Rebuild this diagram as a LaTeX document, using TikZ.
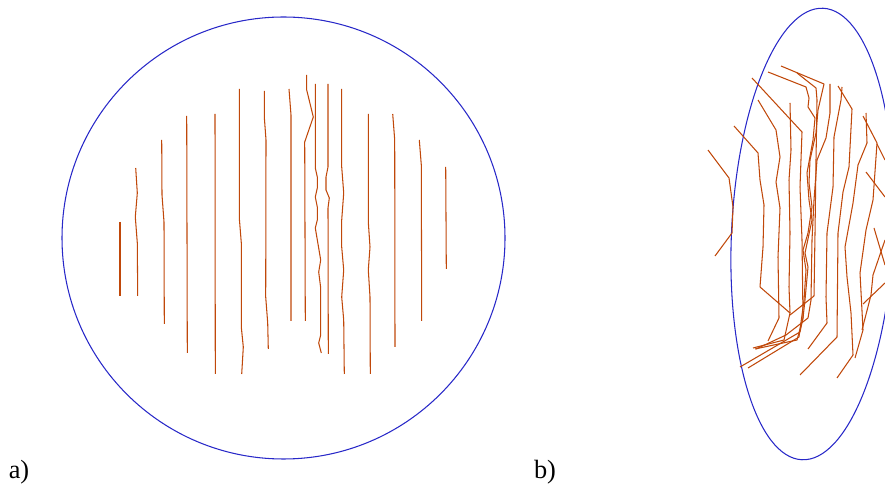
\documentclass[tikz,border=0pt]{standalone}
\usepackage{fontspec}
\setmainfont{Liberation Serif}
\usepackage{xcolor}
\definecolor{cRim}{RGB}{40,40,200}
\definecolor{cFib}{RGB}{192,72,10}
\tikzset{
  rim/.style={draw=cRim,line width=0.6pt},
  fibre/.style={draw=cFib,line width=0.6pt,line join=round},
  panel/.style={font=\fontsize{15}{17}\selectfont,inner sep=0pt},
}

\begin{document}
\begin{tikzpicture}[x=0.02cm,y=-0.02cm]
  \useasboundingbox (0,0) rectangle (885,492);
  \begin{scope}
  \clip (0,0) rectangle (885,492);

  % a) circle with straight fibres
  \draw[rim] (283.5,238) circle [x radius=221.5,y radius=221];
  \draw[fibre] (120,222) -- (120,296);
  \draw[fibre] (135.7,168) -- (137.3,193) -- (135.3,217) -- (137.3,243) -- (137.7,296);
  \draw[fibre] (161.7,140) -- (162,195) -- (164,222) -- (164.3,324);
  \draw[fibre] (186.7,116) -- (187.3,353);
  \draw[fibre] (215,114) -- (215.3,374);
  \draw[fibre] (239.3,89) -- (239.3,218) -- (241.3,243) -- (241.3,327) -- (243.3,347) -- (241.7,374);
  \draw[fibre] (264.3,91) -- (264.3,117) -- (266,140) -- (265.7,297) -- (267.7,323) -- (268.3,349);
  \draw[fibre] (289,89) -- (291,115) -- (291,321);
  \draw[fibre] (306.7,75) -- (306.7,90) -- (313.3,117) -- (304.7,142) -- (305.3,321);
  \draw[fibre] (315.3,84) -- (315.3,168) -- (317.3,177) -- (317.3,188) -- (315.3,197) -- (317.3,207)
    -- (317.3,220) -- (315.3,228) -- (320.7,260) -- (318.7,272) -- (320.7,288) -- (320.7,335)
    -- (318.7,343) -- (321.3,353);
  \draw[fibre] (328,84) -- (328,167) -- (326,177) -- (326,190) -- (329.3,198) -- (328,208) -- (328.3,354);
  \draw[fibre] (341.7,89) -- (341.7,167) -- (343.7,193) -- (341.7,220) -- (341.7,247) -- (343.7,270)
    -- (341.7,297) -- (343.7,320) -- (344.3,374);
  \draw[fibre] (368.3,114) -- (368.3,222) -- (370,247) -- (368.3,270) -- (370,297) -- (370.3,374);
  \draw[fibre] (392.7,114) -- (394.7,140) -- (395,347);
  \draw[fibre] (419.3,140) -- (421.3,165) -- (421.7,321);
  \draw[fibre] (445.7,167) -- (446.3,269);

  % b) deformed ellipse with bent fibres
  \draw[rim,rotate around={-2.7:(812.5,234)}] (812.5,234) ellipse [x radius=81,y radius=226];
  \draw[fibre] (708,150) -- (729,178) -- (733,207) -- (732,233) -- (715,256);
  \draw[fibre] (734,126) -- (758,153) -- (760,180) -- (764,205) -- (763,247) -- (760,287) -- (790,313);
  \draw[fibre] (752,78) -- (802,132) -- (800,187) -- (802,240) -- (803,318) -- (797,340) -- (755,349);
  \draw[fibre] (758,100) -- (776,130) -- (780,157) -- (776,182) -- (780,208) -- (778,257) -- (779,318) -- (768,341);
  \draw[fibre] (790,103) -- (791,150) -- (789,180) -- (790,233) -- (789,287) -- (790,313) -- (784,340) -- (753,348);
  \draw[fibre] (768,72) -- (806,87) -- (809,98) -- (808,107) -- (815,118) -- (813,140) -- (807,173)
    -- (809,200) -- (812,220) -- (805,253) -- (808,267) -- (805,300) -- (803,318) -- (800,332) -- (740,367);
  \draw[fibre] (781,66) -- (824,84) -- (818,110) -- (816,133) -- (810,160) -- (809,183) -- (812,207)
    -- (808,233) -- (803,250) -- (806,270) -- (804,300) -- (799,337) -- (748,368);
  \draw[fibre] (797,73) -- (816,88) -- (817,100) -- (816,160) -- (815,233) -- (814,296) -- (790,315);
  \draw[fibre] (830,84) -- (830,113) -- (826,138) -- (817,160) -- (814,200) -- (812,240) -- (811,300)
    -- (808,318) -- (786,335) -- (756,349);
  \draw[fibre] (842,87) -- (841,100) -- (834,137) -- (833,187) -- (827,233) -- (826,297) -- (827,323) -- (808,349);
  \draw[fibre] (838,86) -- (852,109) -- (849,167) -- (843,192) -- (838,233) -- (837,337) -- (800,375);
  \draw[fibre] (866,113) -- (867,143) -- (858,165) -- (853,203) -- (845,247) -- (847,277) -- (851,313)
    -- (853,355) -- (837,378);
  \draw[fibre] (863,116) -- (877,143) -- (873,200) -- (866,230) -- (860,273) -- (863,330) -- (855,358);
  \draw[fibre] (866,172) -- (885,197);
  \draw[fibre] (877,144) -- (885,160);
  \draw[fibre] (874,228) -- (885,265);
  \draw[fibre] (885,240) -- (873,275) -- (871,295) -- (862,330);
  \draw[fibre] (885,283) -- (863,304);
  \end{scope}

  \node[panel] (lblA) at (19,472) {a)};
  \node[panel] (lblB) at (545,472) {b)};
\end{tikzpicture}
\end{document}
